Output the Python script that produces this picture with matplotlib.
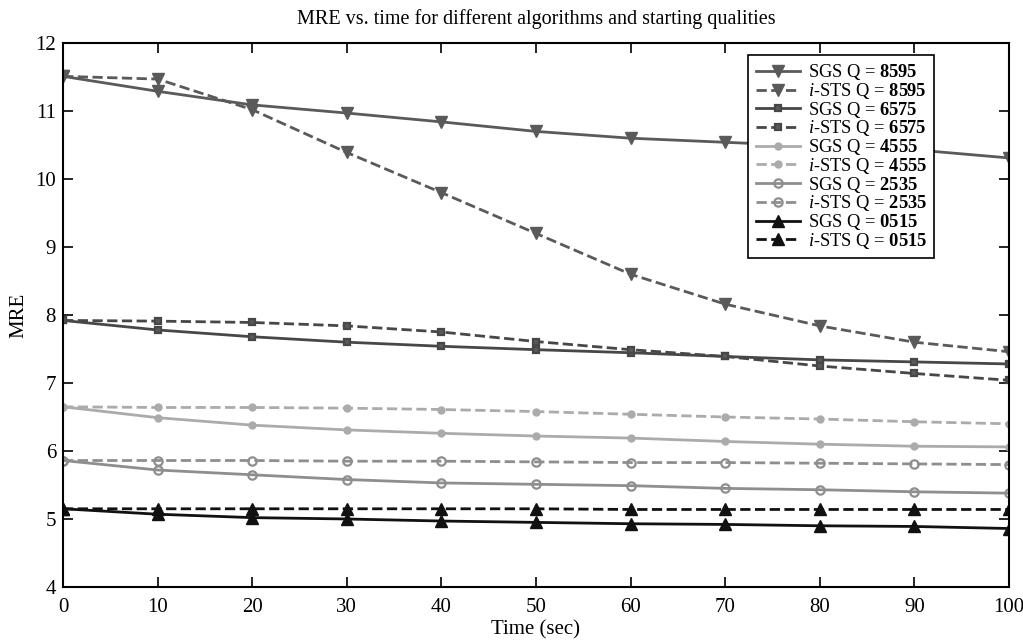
import numpy as np
import matplotlib
matplotlib.use("Agg")
from matplotlib import pyplot as plt

plt.rcParams['font.family'] = ['Liberation Serif', 'DejaVu Serif']
plt.rcParams['mathtext.fontset'] = 'custom'
plt.rcParams['mathtext.rm'] = 'Liberation Serif'
plt.rcParams['mathtext.it'] = 'Liberation Serif:italic'
plt.rcParams['mathtext.bf'] = 'Liberation Serif:bold'

# time axis (sec)
t = [0, 10, 20, 30, 40, 50, 60, 70, 80, 90, 100]

# MRE values, SGS and i-STS for each starting quality
sgs_8595 = [11.51, 11.29, 11.09, 10.97, 10.84, 10.70, 10.60, 10.54, 10.48, 10.43, 10.31]
ists_8595 = [11.51, 11.47, 11.02, 10.39, 9.80, 9.20, 8.60, 8.16, 7.84, 7.60, 7.46]
sgs_6575 = [7.92, 7.78, 7.68, 7.60, 7.54, 7.49, 7.445, 7.39, 7.34, 7.31, 7.28]
ists_6575 = [7.92, 7.91, 7.89, 7.84, 7.75, 7.61, 7.49, 7.39, 7.25, 7.14, 7.04]
sgs_4555 = [6.65, 6.49, 6.38, 6.31, 6.26, 6.22, 6.19, 6.14, 6.10, 6.07, 6.06]
ists_4555 = [6.65, 6.64, 6.64, 6.63, 6.61, 6.58, 6.54, 6.50, 6.47, 6.43, 6.40]
sgs_2535 = [5.86, 5.72, 5.65, 5.58, 5.53, 5.51, 5.49, 5.45, 5.43, 5.40, 5.38]
ists_2535 = [5.86, 5.86, 5.86, 5.85, 5.85, 5.84, 5.83, 5.83, 5.82, 5.81, 5.80]
sgs_0515 = [5.15, 5.07, 5.02, 5.00, 4.97, 4.95, 4.93, 4.92, 4.90, 4.89, 4.86]
ists_0515 = [5.15, 5.15, 5.15, 5.15, 5.15, 5.15, 5.14, 5.14, 5.14, 5.14, 5.14]

qualities = ['8595', '6575', '4555', '2535', '0515']
sgs = [sgs_8595, sgs_6575, sgs_4555, sgs_2535, sgs_0515]
ists = [ists_8595, ists_6575, ists_4555, ists_2535, ists_0515]

colors = ['#5a5a5a', '#474747', '#ababab', '#8e8e8e', '#111111']
markers = ['v', 's', 'o', 'o', '^']
msizes = [8, 5, 5, 6, 8]
faces = [None, '#5a5a5a', None, 'none', None]

fig = plt.figure(figsize=(10.23, 6.42), dpi=100)
ax = fig.add_axes([0.0616, 0.0857, 0.9246, 0.8473])

for q, s, i, c, m, ms, fc in zip(qualities, sgs, ists, colors, markers, msizes, faces):
    kw = dict(color=c, marker=m, markersize=ms, lw=2)
    if fc is not None:
        kw['markerfacecolor'] = fc
        kw['markeredgecolor'] = c
        kw['markeredgewidth'] = 1.6
    ax.plot(t, s, '-', label=r'SGS Q = $\mathbf{%s}$' % q, **kw)
    ax.plot(t, i, '--', label=r'$\mathit{i}$-STS Q = $\mathbf{%s}$' % q, **kw)

ax.set_xlim(0, 100)
ax.set_ylim(4, 12)
ax.set_xticks(range(0, 101, 10))
ax.set_yticks(range(4, 13))
ax.tick_params(direction='in', top=True, right=True, labelsize=15, length=7, width=1.2)
ax.tick_params(axis='x', pad=8)
ax.tick_params(axis='y', pad=5)
for sp in ax.spines.values():
    sp.set_linewidth(1.5)

ax.set_title('MRE vs. time for different algorithms and starting qualities', fontsize=14.5, pad=14)
ax.set_xlabel('Time (sec)', fontsize=15, labelpad=2)
ax.set_ylabel('MRE', fontsize=15, labelpad=5)

leg = ax.legend(loc='upper right', bbox_to_anchor=(0.921, 0.978), borderaxespad=0,
                fontsize=13.3, frameon=True, fancybox=False, edgecolor='black',
                framealpha=1, handlelength=2.4, labelspacing=-0.07, borderpad=0.4,
                handletextpad=0.4)
leg.get_frame().set_linewidth(1.2)

plt.savefig('out.png', dpi=100)
